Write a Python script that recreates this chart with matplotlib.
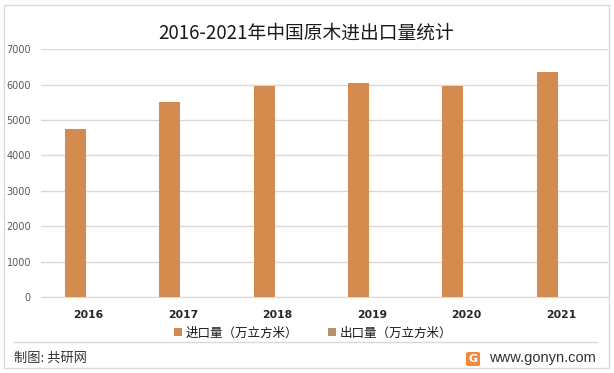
import matplotlib
matplotlib.use("Agg")
import matplotlib.pyplot as plt
from matplotlib.patches import Rectangle, FancyBboxPatch
from matplotlib.lines import Line2D
import numpy as np

plt.rcParams['font.family'] = ['Noto Sans CJK SC', 'DejaVu Sans']

years = ['2016', '2017', '2018', '2019', '2020', '2021']
imports = [4747, 5510, 5971, 6047, 5971, 6358]
exports = [2, 2, 1, 1, 1, 1]
series_names = ['进口量（万立方米）', '出口量（万立方米）']
title = '2016-2021年中国原木进出口量统计'

W, H = 614, 373
fig = plt.figure(figsize=(W / 100, H / 100), dpi=100)

def px(x, y):
    return x / W, 1 - y / H

# plot area
left, top = px(41.4, 49.3)
right, bottom = px(608, 297)
ax = fig.add_axes([left, bottom, right - left, top - bottom])

x = np.arange(len(years))
off = 0.142
w = 0.222
ax.bar(x - off, imports, width=w, color='#D48B4D', label=series_names[0], zorder=3)
ax.bar(x + off, exports, width=w, color='#B8906E', label=series_names[1], zorder=3)

ax.set_xlim(-0.5, len(years) - 0.5)
ax.set_ylim(0, 7000)
ax.set_yticks(range(0, 7001, 1000))
ax.set_xticks(x)
ax.set_xticklabels(years, fontsize=7.8, color='#262626', fontweight='bold', family=['DejaVu Sans'])
ax.tick_params(axis='y', labelsize=7, labelcolor='#595959', length=0, pad=7.5)
ax.tick_params(axis='x', length=0, pad=9)
for lbl in ax.get_yticklabels():
    lbl.set_family(['DejaVu Sans'])
ax.grid(axis='y', color='#D9D9D9', linewidth=1, zorder=0)
for s in ['top', 'right', 'left']:
    ax.spines[s].set_visible(False)
ax.spines['bottom'].set_color('#D9D9D9')

# title
tx, ty = px(306, 33)
fig.text(tx, ty, title, ha='center', va='center', fontsize=13.5, color='#1a1a1a')

# legend
lx, ly = px(313, 333)
fig.legend(loc='center', bbox_to_anchor=(lx, ly), ncol=2, frameon=False,
           fontsize=9, handlelength=0.6, handleheight=0.6, handletextpad=0.3,
           columnspacing=2.4, labelcolor='#1a1a1a')

# outer border and footer line
fig.patches.append(Rectangle(px(4.3, 368), (609 - 4.3) / W, (368 - 5.3) / H,
                             transform=fig.transFigure, fill=False,
                             edgecolor='#D9D9D9', linewidth=1))
sx0, sy = px(14, 341.7)
sx1, _ = px(597, 341.7)
fig.lines.append(Line2D([sx0, sx1], [sy, sy], transform=fig.transFigure,
                        color='#D9D9D9', linewidth=1))

# footer texts
fx, fy = px(14, 358)
fig.text(fx, fy, '制图: 共研网', ha='left', va='center', fontsize=9.5, color='#333333')
gx, gy = px(489, 358)
fig.text(gx, gy, 'www.gonyn.com', ha='left', va='center', fontsize=10.5,
         color='#333333', family=['Liberation Sans'])
bx, by = px(466, 366)
fig.patches.append(FancyBboxPatch((bx, by), 14 / W, 14 / H, boxstyle='round,pad=0,rounding_size=0.004',
                                  transform=fig.transFigure, facecolor='#F0893A', edgecolor='none'))
cx, cy = px(473, 359)
fig.text(cx, cy, 'G', ha='center', va='center', fontsize=8, color='white', fontweight='bold',
         family=['DejaVu Sans'])

fig.savefig('out.png', dpi=100)
